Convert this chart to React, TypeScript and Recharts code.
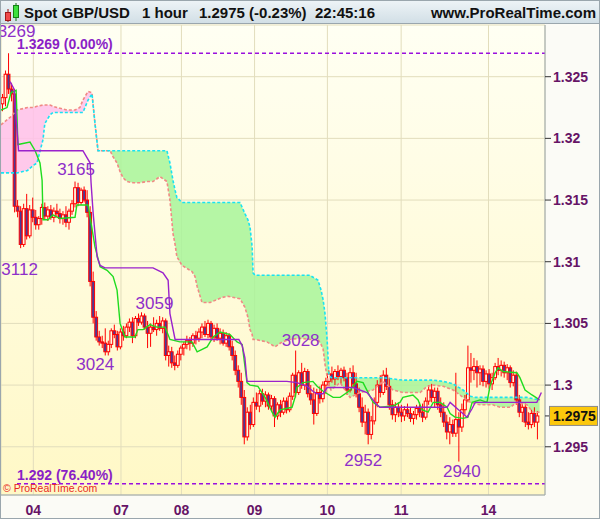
import React from "react";
import { ComposedChart, Bar, Line, Area, XAxis, YAxis, CartesianGrid, ReferenceLine, ReferenceDot } from "recharts";

// hourly candles, [open, high, low, close]; index = hour since start
const candles: number[][] = [
  [1.3228, 1.3236, 1.3222, 1.3233], [1.3233, 1.3255, 1.3226, 1.3252], [1.3252, 1.3269, 1.3236, 1.324], [1.324, 1.3245, 1.323, 1.3236],
  [1.3236, 1.324, 1.314, 1.3145], [1.3145, 1.315, 1.3136, 1.3141], [1.3141, 1.3145, 1.3111, 1.3114], [1.3114, 1.3147, 1.3112, 1.3143],
  [1.3143, 1.3155, 1.3118, 1.3121], [1.3121, 1.3146, 1.3119, 1.3142], [1.3142, 1.3152, 1.3132, 1.3136], [1.3136, 1.3142, 1.3126, 1.313],
  [1.313, 1.3137, 1.3126, 1.3135], [1.3135, 1.3147, 1.313, 1.3144], [1.3144, 1.3148, 1.3134, 1.3137], [1.3137, 1.3145, 1.3133, 1.3142],
  [1.3142, 1.3146, 1.3134, 1.3136], [1.3136, 1.3144, 1.3132, 1.3141], [1.3141, 1.3147, 1.3136, 1.3139], [1.3139, 1.3143, 1.3131, 1.3135],
  [1.3135, 1.3141, 1.313, 1.3138], [1.3138, 1.3145, 1.3128, 1.3132], [1.3132, 1.3143, 1.3126, 1.3141], [1.3141, 1.315, 1.3138, 1.3147],
  [1.3147, 1.3165, 1.3144, 1.316], [1.316, 1.3164, 1.3145, 1.3148], [1.3148, 1.316, 1.3146, 1.3158], [1.3158, 1.3161, 1.3148, 1.315],
  [1.315, 1.3158, 1.3136, 1.314], [1.314, 1.3145, 1.308, 1.3084], [1.3084, 1.3092, 1.305, 1.3055], [1.3055, 1.306, 1.3036, 1.3039],
  [1.3039, 1.3044, 1.3032, 1.3035], [1.3035, 1.304, 1.303, 1.3034], [1.3034, 1.3046, 1.3024, 1.3027], [1.3027, 1.3036, 1.3024, 1.3033],
  [1.3033, 1.3046, 1.303, 1.3044], [1.3044, 1.3049, 1.3038, 1.3041], [1.3041, 1.3044, 1.3028, 1.3031], [1.3031, 1.3046, 1.3029, 1.3043],
  [1.3043, 1.3048, 1.3036, 1.304], [1.304, 1.305, 1.3038, 1.3047], [1.3047, 1.3054, 1.3043, 1.3051], [1.3051, 1.3055, 1.3034, 1.304],
  [1.304, 1.3056, 1.3038, 1.3054], [1.3054, 1.3058, 1.3048, 1.3051], [1.3051, 1.3059, 1.3049, 1.3056], [1.3056, 1.3058, 1.3045, 1.3047],
  [1.3047, 1.3052, 1.303, 1.3042], [1.3042, 1.305, 1.3031, 1.3047], [1.3047, 1.3055, 1.3043, 1.3045], [1.3045, 1.3053, 1.304, 1.305],
  [1.305, 1.3056, 1.3044, 1.3046], [1.3046, 1.3055, 1.3042, 1.3052], [1.3052, 1.3054, 1.302, 1.3024], [1.3024, 1.3032, 1.3015, 1.3027],
  [1.3027, 1.3031, 1.3014, 1.3018], [1.3018, 1.3024, 1.3012, 1.3016], [1.3016, 1.3028, 1.3014, 1.3025], [1.3025, 1.3032, 1.302, 1.303],
  [1.303, 1.3035, 1.3024, 1.3033], [1.3033, 1.304, 1.3029, 1.3036], [1.3036, 1.3039, 1.3028, 1.3034], [1.3034, 1.3042, 1.3031, 1.304],
  [1.304, 1.3044, 1.3033, 1.3038], [1.3038, 1.3046, 1.3035, 1.3043], [1.3043, 1.305, 1.3038, 1.3047], [1.3047, 1.3052, 1.3039, 1.3041],
  [1.3041, 1.3053, 1.3038, 1.305], [1.305, 1.3052, 1.3036, 1.3039], [1.3039, 1.3049, 1.3035, 1.3046], [1.3046, 1.305, 1.3036, 1.3038],
  [1.3038, 1.3046, 1.3033, 1.3042], [1.3042, 1.3045, 1.3032, 1.3034], [1.3034, 1.3043, 1.3031, 1.304], [1.304, 1.3042, 1.3028, 1.3031],
  [1.3031, 1.3036, 1.302, 1.3024], [1.3024, 1.3028, 1.3008, 1.3012], [1.3012, 1.3016, 1.2998, 1.3003], [1.3003, 1.301, 1.2984, 1.299],
  [1.299, 1.2996, 1.2952, 1.2958], [1.2958, 1.2982, 1.2955, 1.2978], [1.2978, 1.2984, 1.2964, 1.2968], [1.2968, 1.299, 1.2966, 1.2986],
  [1.2986, 1.2994, 1.298, 1.2983], [1.2983, 1.2996, 1.2978, 1.2993], [1.2993, 1.2997, 1.2984, 1.2987], [1.2987, 1.2995, 1.2982, 1.2992],
  [1.2992, 1.2994, 1.298, 1.2983], [1.2983, 1.2992, 1.2979, 1.2989], [1.2989, 1.2991, 1.2966, 1.2975], [1.2975, 1.2986, 1.2972, 1.2984],
  [1.2984, 1.2988, 1.2974, 1.2978], [1.2978, 1.299, 1.2976, 1.2987], [1.2987, 1.299, 1.2977, 1.298], [1.298, 1.2994, 1.2978, 1.2991],
  [1.2991, 1.301, 1.2988, 1.3008], [1.3008, 1.3028, 1.299, 1.2994], [1.2994, 1.3012, 1.2992, 1.301], [1.301, 1.3018, 1.2997, 1.3],
  [1.3, 1.3014, 1.2996, 1.3011], [1.3011, 1.3013, 1.299, 1.2993], [1.2993, 1.3, 1.2984, 1.2988], [1.2988, 1.2998, 1.2968, 1.2977],
  [1.2977, 1.2997, 1.2975, 1.2994], [1.2994, 1.2999, 1.2985, 1.2989], [1.2989, 1.3003, 1.2986, 1.3], [1.3, 1.3006, 1.2993, 1.3003],
  [1.3003, 1.3012, 1.2999, 1.3009], [1.3009, 1.3015, 1.3002, 1.3005], [1.3005, 1.3013, 1.3, 1.3011], [1.3011, 1.3016, 1.3004, 1.3007],
  [1.3007, 1.3014, 1.3001, 1.3012], [1.3012, 1.3015, 1.3003, 1.3006], [1.3006, 1.301, 1.2992, 1.2996], [1.2996, 1.3014, 1.2994, 1.301],
  [1.301, 1.3016, 1.2998, 1.3001], [1.3001, 1.301, 1.299, 1.2993], [1.2993, 1.2998, 1.2978, 1.2982], [1.2982, 1.299, 1.2966, 1.297],
  [1.297, 1.2984, 1.296, 1.2978], [1.2978, 1.2981, 1.2952, 1.296], [1.296, 1.2975, 1.2956, 1.2971], [1.2971, 1.299, 1.2968, 1.2986],
  [1.2986, 1.3004, 1.2982, 1.3], [1.3, 1.3008, 1.299, 1.2994], [1.2994, 1.3012, 1.2992, 1.3008], [1.3008, 1.3014, 1.2996, 1.2999],
  [1.2999, 1.3006, 1.298, 1.2984], [1.2984, 1.2988, 1.2972, 1.2976], [1.2976, 1.2986, 1.297, 1.2982], [1.2982, 1.2986, 1.2974, 1.2978],
  [1.2978, 1.2984, 1.297, 1.2975], [1.2975, 1.2983, 1.2971, 1.298], [1.298, 1.2985, 1.2974, 1.2977], [1.2977, 1.2982, 1.297, 1.2973],
  [1.2973, 1.2979, 1.2968, 1.2976], [1.2976, 1.2984, 1.2972, 1.2981], [1.2981, 1.2986, 1.2974, 1.2978], [1.2978, 1.2985, 1.297, 1.2974],
  [1.2974, 1.299, 1.2972, 1.2987], [1.2987, 1.3, 1.2984, 1.2996], [1.2996, 1.3001, 1.2986, 1.299], [1.299, 1.2998, 1.2982, 1.2995],
  [1.2995, 1.2998, 1.298, 1.2984], [1.2984, 1.299, 1.2974, 1.2978], [1.2978, 1.2986, 1.2966, 1.297], [1.297, 1.2976, 1.2956, 1.2962],
  [1.2962, 1.2974, 1.2952, 1.2968], [1.2968, 1.2972, 1.2958, 1.2961], [1.2961, 1.301, 1.2958, 1.2972], [1.2972, 1.2978, 1.2938, 1.2966],
  [1.2966, 1.2985, 1.2962, 1.298], [1.298, 1.2992, 1.2976, 1.2988], [1.2988, 1.3032, 1.2986, 1.3014], [1.3014, 1.3026, 1.3002, 1.3012],
  [1.3012, 1.3022, 1.3004, 1.3015], [1.3015, 1.302, 1.2998, 1.301], [1.301, 1.3016, 1.3, 1.3013], [1.3013, 1.3016, 1.2999, 1.3003],
  [1.3003, 1.3012, 1.2998, 1.3009], [1.3009, 1.3013, 1.2997, 1.3001], [1.3001, 1.301, 1.2996, 1.3006], [1.3006, 1.3018, 1.3004, 1.3015],
  [1.3015, 1.3022, 1.3008, 1.3012], [1.3012, 1.302, 1.3007, 1.3016], [1.3016, 1.3019, 1.3006, 1.301], [1.301, 1.3017, 1.3004, 1.3014],
  [1.3014, 1.3016, 1.2998, 1.3002], [1.3002, 1.3012, 1.2999, 1.3008], [1.3008, 1.3011, 1.2984, 1.2988], [1.2988, 1.2992, 1.2974, 1.2978],
  [1.2978, 1.2986, 1.297, 1.2982], [1.2982, 1.2985, 1.2966, 1.297], [1.297, 1.2978, 1.2964, 1.2968], [1.2968, 1.298, 1.2965, 1.2977],
  [1.2977, 1.2982, 1.2966, 1.297], [1.297, 1.2979, 1.2956, 1.2975],
];

const dayTicks = [10.2, 39.2, 59.2, 83.4, 107.5, 131.9, 160.8];
const dayLabels = ["04", "07", "08", "09", "10", "11", "14"];
const priceTicks = [1.295, 1.3, 1.305, 1.31, 1.315, 1.32, 1.325];

// Ichimoku cloud: senkou span A (salmon) and B (cyan)
const cloudT = [-0.5, 2.5, 4.8, 8.3, 10.1, 11.4, 13.4, 14, 15.7, 16.7, 18, 21.3, 24, 25.6, 26.6, 28.3, 29.6, 30.6, 31.6, 35.6,
  36.6, 37.9, 38.9, 39.9, 41.2, 43.2, 45.5, 47.8, 49.8, 52.1, 54.4, 55.4, 56.4, 57.1, 57.7, 59.4, 62.7, 63.7, 64.4, 66,
  68.7, 72.6, 74.6, 78.6, 80.2, 81.2, 81.9, 82.6, 82.9, 83.6, 87.5, 90.2, 92.5, 95.1, 98.4, 101.7, 104.4, 105.4, 106.1, 106.7,
  107.4, 108, 108.7, 111.7, 115, 118.3, 122.6, 125.9, 129.2, 132.5, 135.8, 138.2, 140.5, 142.5, 145.8, 149.1, 152.4, 154.8, 156.4, 158,
  162.3, 164.6, 168, 170.2, 173.5, 175.5, 177.7];
const spanA = [1.3211, 1.3217, 1.3223, 1.3225, 1.3225, 1.3226, 1.3227, 1.3227, 1.3227, 1.3226,
  1.3225, 1.3223, 1.3223, 1.3225, 1.3231, 1.3238, 1.3237, 1.3212, 1.319, 1.319,
  1.3185, 1.318, 1.3173, 1.3168, 1.3165, 1.3164, 1.3164, 1.3165, 1.3165, 1.3169,
  1.3165, 1.315, 1.3123, 1.3114, 1.3104, 1.3097, 1.3092, 1.3088, 1.308, 1.3067,
  1.3067, 1.3071, 1.3072, 1.307, 1.3063, 1.3055, 1.3045, 1.3041, 1.3037, 1.3037,
  1.3035, 1.3031, 1.3035, 1.3037, 1.3038, 1.3037, 1.3037, 1.3033, 1.3029, 1.3017,
  1.3007, 1.3, 1.2996, 1.3002, 1.299, 1.2994, 1.2996, 1.3003, 1.2996, 1.2994,
  1.2994, 1.2994, 1.2999, 1.3, 1.2999, 1.2996, 1.299, 1.2986, 1.2985, 1.2984,
  1.2984, 1.2982, 1.2982, 1.2986, 1.2984, 1.2978, 1.2978];
const spanB = [1.3172, 1.3172, 1.3172, 1.3174, 1.3178, 1.318, 1.3199, 1.3212, 1.3219, 1.3221,
  1.3221, 1.3221, 1.3221, 1.3221, 1.3221, 1.3231, 1.3236, 1.3212, 1.319, 1.319,
  1.319, 1.319, 1.319, 1.319, 1.319, 1.319, 1.319, 1.319, 1.319, 1.319,
  1.319, 1.318, 1.3166, 1.3158, 1.3152, 1.3148, 1.3148, 1.3148, 1.3148, 1.3148,
  1.3148, 1.3148, 1.3148, 1.3148, 1.3139, 1.3134, 1.3128, 1.3112, 1.3091, 1.3089,
  1.3089, 1.3089, 1.3089, 1.3089, 1.3089, 1.3089, 1.3085, 1.3077, 1.3069, 1.3058,
  1.3037, 1.3009, 1.3006, 1.3006, 1.3006, 1.3006, 1.3006, 1.3006, 1.3005, 1.3004,
  1.3004, 1.3004, 1.3004, 1.3004, 1.3003, 1.3001, 1.2996, 1.2991, 1.299, 1.299,
  1.299, 1.299, 1.299, 1.299, 1.299, 1.2989, 1.2988];

// tenkan-sen (green), [hour, price]
const tenkan: number[][] = [
  [-0.5, 1.3223], [1.5, 1.3225], [2.8, 1.3237], [4.5, 1.3239], [5.1, 1.3195], [9.1, 1.3197], [10.8, 1.319], [12.4, 1.318],
  [13.1, 1.3166], [13.4, 1.3134], [15.1, 1.3134], [16.7, 1.3138], [19, 1.3135], [24, 1.3136], [24.6, 1.3146], [28.3, 1.3146],
  [29, 1.3136], [30.6, 1.3112], [32.3, 1.3096], [34.6, 1.3093], [36.6, 1.3088], [37.9, 1.3077], [38.9, 1.305], [40.5, 1.3039],
  [43.8, 1.3039], [44.8, 1.3045], [46.5, 1.3045], [48.8, 1.3049], [51.1, 1.3047], [53.8, 1.3047], [55.4, 1.3037], [58.7, 1.3035],
  [62.7, 1.3035], [64.4, 1.3027], [67.7, 1.3031], [69.7, 1.3039], [72, 1.3043], [75.3, 1.3041], [77.6, 1.3035], [79.3, 1.3033],
  [80.9, 1.3002], [81.9, 1.3], [84.5, 1.2999], [86.9, 1.299], [89.2, 1.2978], [90.2, 1.2974], [91.8, 1.298], [95.8, 1.2982],
  [96.8, 1.299], [97.4, 1.2998], [99.4, 1.3002], [102.7, 1.3003], [104.1, 1.2999], [106.1, 1.2995], [109.4, 1.299], [111.7, 1.299],
  [114, 1.2994], [115, 1.2996], [117.3, 1.3003], [119.3, 1.3002], [122.6, 1.2986], [124.9, 1.2982], [129.2, 1.2983], [131.5, 1.2986],
  [132.5, 1.299], [135.8, 1.2992], [137.5, 1.2988], [138.8, 1.298], [140.8, 1.2978], [142.5, 1.2986], [144.8, 1.2986], [147.1, 1.2982],
  [148.1, 1.2977], [149.7, 1.2974], [152.4, 1.2973], [154, 1.2974], [155.4, 1.2986], [158, 1.2988], [160.3, 1.2986], [161.3, 1.2999],
  [163, 1.301], [164, 1.3014], [165.6, 1.3011], [170.2, 1.301], [171.2, 1.3006], [172.9, 1.2996], [175.2, 1.2992], [177.7, 1.2988],
];

// kijun-sen (purple), [hour, price]
const kijun: number[][] = [
  [2.5, 1.3246], [3.8, 1.324], [5.3, 1.319], [26.6, 1.319], [29, 1.318], [29.3, 1.3164], [30, 1.3139], [31.3, 1.3104],
  [32.3, 1.3097], [33.9, 1.3095], [49.8, 1.3095], [53.1, 1.3091], [54.8, 1.3085], [55.4, 1.3058], [57.1, 1.3037], [78.2, 1.3037],
  [79.3, 1.3032], [80.2, 1.3022], [80.9, 1.3003], [94.1, 1.3003], [97.4, 1.3002], [100.8, 1.2999], [102.7, 1.2995], [104, 1.2993],
  [106.1, 1.2993], [107.4, 1.2998], [116, 1.2998], [120.6, 1.2994], [123.9, 1.2984], [124.9, 1.2982], [147.1, 1.2982], [148.1, 1.2986],
  [150.4, 1.2981], [153.7, 1.2974], [155.4, 1.2981], [156.4, 1.2986], [176.8, 1.2986], [178.3, 1.2994],
];

// high / low markers
const extremes = [
  { t: 2, price: 1.3269, text: "3269" },
  { t: 24, price: 1.3165, text: "3165" },
  { t: 6, price: 1.3111, text: "3112" },
  { t: 46, price: 1.3059, text: "3059" },
  { t: 34, price: 1.3024, text: "3024" },
  { t: 97, price: 1.3028, text: "3028" },
  { t: 121, price: 1.2952, text: "2952" },
  { t: 151, price: 1.2938, text: "2940" },
];
const extremeOffsets = [[8, -16], [1, -7], [-1, 27], [13, -3], [-10, 15], [5, -5], [-5, 22], [3, 15]];

const topLevel = 1.3269;
const bottomLevel = 1.292;
const lastPrice = 1.2975;

const FONT = "'Liberation Sans', Arial, sans-serif";
const AXIS_TEXT = "#661466";
const MARK = "#8e2fc9";

const candleData = candles.map(([o, h, l, c], i) => ({ t: i, o, h, l, c, range: [l, h] }));
const cloudData = cloudT.map((t, i) => ({ t, a: spanA[i], b: spanB[i] }));
const tenkanData = tenkan.map(([t, p]) => ({ t, p }));
const kijunData = kijun.map(([t, p]) => ({ t, p }));

function Candle(props: any) {
  const { x, width, payload } = props;
  let { y, height } = props;
  if (height < 0) { y += height; height = -height; }
  const { o, h, l, c } = payload;
  const cx = x + width / 2;
  const span = h - l || 1e-9;
  const yO = y + ((h - o) / span) * height;
  const yC = y + ((h - c) / span) * height;
  const top = Math.min(yO, yC);
  const bh = Math.max(Math.abs(yC - yO), 1);
  return (
    <g>
      <line x1={cx} x2={cx} y1={y} y2={y + height} stroke="#ff0000" strokeWidth={1} />
      <rect x={cx - 1.4} y={top} width={2.8} height={bh} fill={c >= o ? "#fffbe0" : "#4b3a96"} stroke="#ff0000" strokeWidth={1} />
    </g>
  );
}

const PriceTick = ({ x, y, payload }: any) => (
  <text x={x} y={y} dy={5} fill={AXIS_TEXT} fontSize={14} fontWeight="bold" fontFamily={FONT} textAnchor="start">
    {payload.value}
  </text>
);

const DayTick = ({ x, y, payload }: any) => (
  <text x={x} y={y} dy={20} fill={AXIS_TEXT} fontSize={14} fontWeight="bold" fontFamily={FONT} textAnchor="middle">
    {dayLabels[dayTicks.indexOf(payload.value)]}
  </text>
);

function HeaderIcon() {
  return (
    <svg width={20} height={24} style={{ position: "absolute", left: 2, top: 0 }}>
      <line x1={6} x2={6} y1={9} y2={22} stroke="#901010" />
      <rect x={3.5} y={12.5} width={5} height={8} fill="#ef4a4a" stroke="#a01818" />
      <line x1={14} x2={14} y1={3} y2={21} stroke="#107010" />
      <rect x={11.5} y={5.5} width={5} height={12} fill="#3ee03e" stroke="#158015" />
    </svg>
  );
}

export default function App() {
  const head = { position: "absolute" as const, top: 4, fontFamily: FONT, fontWeight: "bold" as const, fontSize: 15, color: "#111", lineHeight: "17px", whiteSpace: "nowrap" as const };
  return (
    <div style={{ position: "absolute", left: 0, top: 0, width: 600, height: 519, background: "#fbfbf6", overflow: "hidden" }}>
      <div style={{ position: "absolute", left: 0, top: 0, width: 600, height: 24, background: "linear-gradient(#eef4f7, #d2dfe6)", borderBottom: "1px solid #9aa6ad", boxSizing: "border-box" }}>
        <HeaderIcon />
        <div style={{ ...head, left: 24 }}>Spot GBP/USD</div>
        <div style={{ ...head, left: 142 }}>1 hour</div>
        <div style={{ ...head, left: 199 }}>1.2975 (-0.23%)</div>
        <div style={{ ...head, left: 315 }}>22:45:16</div>
        <div style={{ ...head, right: 4 }}>www.ProRealTime.com</div>
      </div>
      <div style={{ position: "absolute", left: 1, top: 24, width: 544, height: 471, background: "linear-gradient(#fffff3, #fff8c6)" }} />
      <div style={{ position: "absolute", left: 0, top: 24 }}>
        <ComposedChart width={600} height={495} data={candleData} margin={{ top: 1, right: 0, bottom: 0, left: 1 }}>
          <CartesianGrid stroke="#e2ddbc" />
          <XAxis dataKey="t" type="number" domain={[-0.5, 179.5]} ticks={dayTicks} interval={0} height={24}
            axisLine={{ stroke: "#9aa6ad" }} tickLine={false} tickSize={0} tickMargin={0} tick={<DayTick />} allowDataOverflow />
          <YAxis orientation="right" type="number" domain={[1.29109, 1.32919]} ticks={priceTicks} interval={0} width={55}
            axisLine={{ stroke: "#9aa6ad" }} tickLine={{ stroke: "#333" }} tickSize={6} tickMargin={2} tick={<PriceTick />} allowDataOverflow />
          <Area data={cloudData} dataKey={(d: any) => [d.a, Math.max(d.a, d.b)]} type="linear" stroke="none" fill="#a8f59a" fillOpacity={0.85} isAnimationActive={false} />
          <Area data={cloudData} dataKey={(d: any) => [d.b, Math.max(d.a, d.b)]} type="linear" stroke="none" fill="#ffbfeb" fillOpacity={0.85} isAnimationActive={false} />
          <Line data={cloudData} dataKey="a" type="linear" stroke="#f08a84" strokeWidth={1.6} strokeDasharray="3 2" dot={false} isAnimationActive={false} />
          <Line data={cloudData} dataKey="b" type="linear" stroke="#19e3f2" strokeWidth={1.6} strokeDasharray="3 2" dot={false} isAnimationActive={false} />
          <Bar dataKey="range" barSize={3} shape={<Candle />} isAnimationActive={false} />
          <Line data={tenkanData} dataKey="p" type="linear" stroke="#1fdc1f" strokeWidth={1.4} dot={false} isAnimationActive={false} />
          <Line data={kijunData} dataKey="p" type="linear" stroke="#9a22cc" strokeWidth={1.4} dot={false} isAnimationActive={false} />
          <ReferenceLine segment={[{ x: 4.8, y: topLevel }, { x: 179.5, y: topLevel }]} stroke="#9a10dd" strokeDasharray="4 3" strokeWidth={1.3} />
          <ReferenceLine segment={[{ x: 4.8, y: bottomLevel }, { x: 179.5, y: bottomLevel }]} stroke="#9a10dd" strokeDasharray="4 3" strokeWidth={1.3} />
          <ReferenceDot x={4.8} y={topLevel} r={0} ifOverflow="visible"
            shape={(p: any) => <text x={p.cx} y={p.cy - 4} fill="#8a1fc6" fontSize={14} fontWeight="bold" fontFamily={FONT}>1.3269 (0.00%)</text>} />
          <ReferenceDot x={4.8} y={bottomLevel} r={0} ifOverflow="visible"
            shape={(p: any) => <text x={p.cx} y={p.cy - 4} fill="#8a1fc6" fontSize={14} fontWeight="bold" fontFamily={FONT}>1.292 (76.40%)</text>} />
          {extremes.map((e, i) => (
            <ReferenceDot key={e.text} x={e.t} y={e.price} r={0} ifOverflow="visible"
              shape={(p: any) => (
                <text x={p.cx + extremeOffsets[i][0]} y={p.cy + extremeOffsets[i][1]} fill={MARK} fontSize={17} fontFamily={FONT} textAnchor="middle">
                  {e.text}
                </text>
              )} />
          ))}
          <ReferenceDot x={179.5} y={lastPrice} r={0} ifOverflow="visible"
            shape={(p: any) => (
              <g>
                <line x1={p.cx} x2={p.cx + 6} y1={p.cy} y2={p.cy} stroke="#333" />
                <rect x={p.cx + 4.5} y={p.cy - 9.5} width={48} height={19} fill="#fcc80c" stroke="#8a8a8a" />
                <text x={p.cx + 8} y={p.cy + 5} fill="#111" fontSize={14} fontWeight="bold" fontFamily={FONT}>1.2975</text>
              </g>
            )} />
        </ComposedChart>
      </div>
      <div style={{ position: "absolute", left: 3, top: 482, fontFamily: FONT, fontSize: 10.5, color: "#e8281e", whiteSpace: "nowrap" }}>© ProRealTime.com</div>
      <div style={{ position: "absolute", left: 0, top: 0, width: 600, height: 519, border: "1px solid #9aa6ad", boxSizing: "border-box", pointerEvents: "none" }} />
    </div>
  );
}
